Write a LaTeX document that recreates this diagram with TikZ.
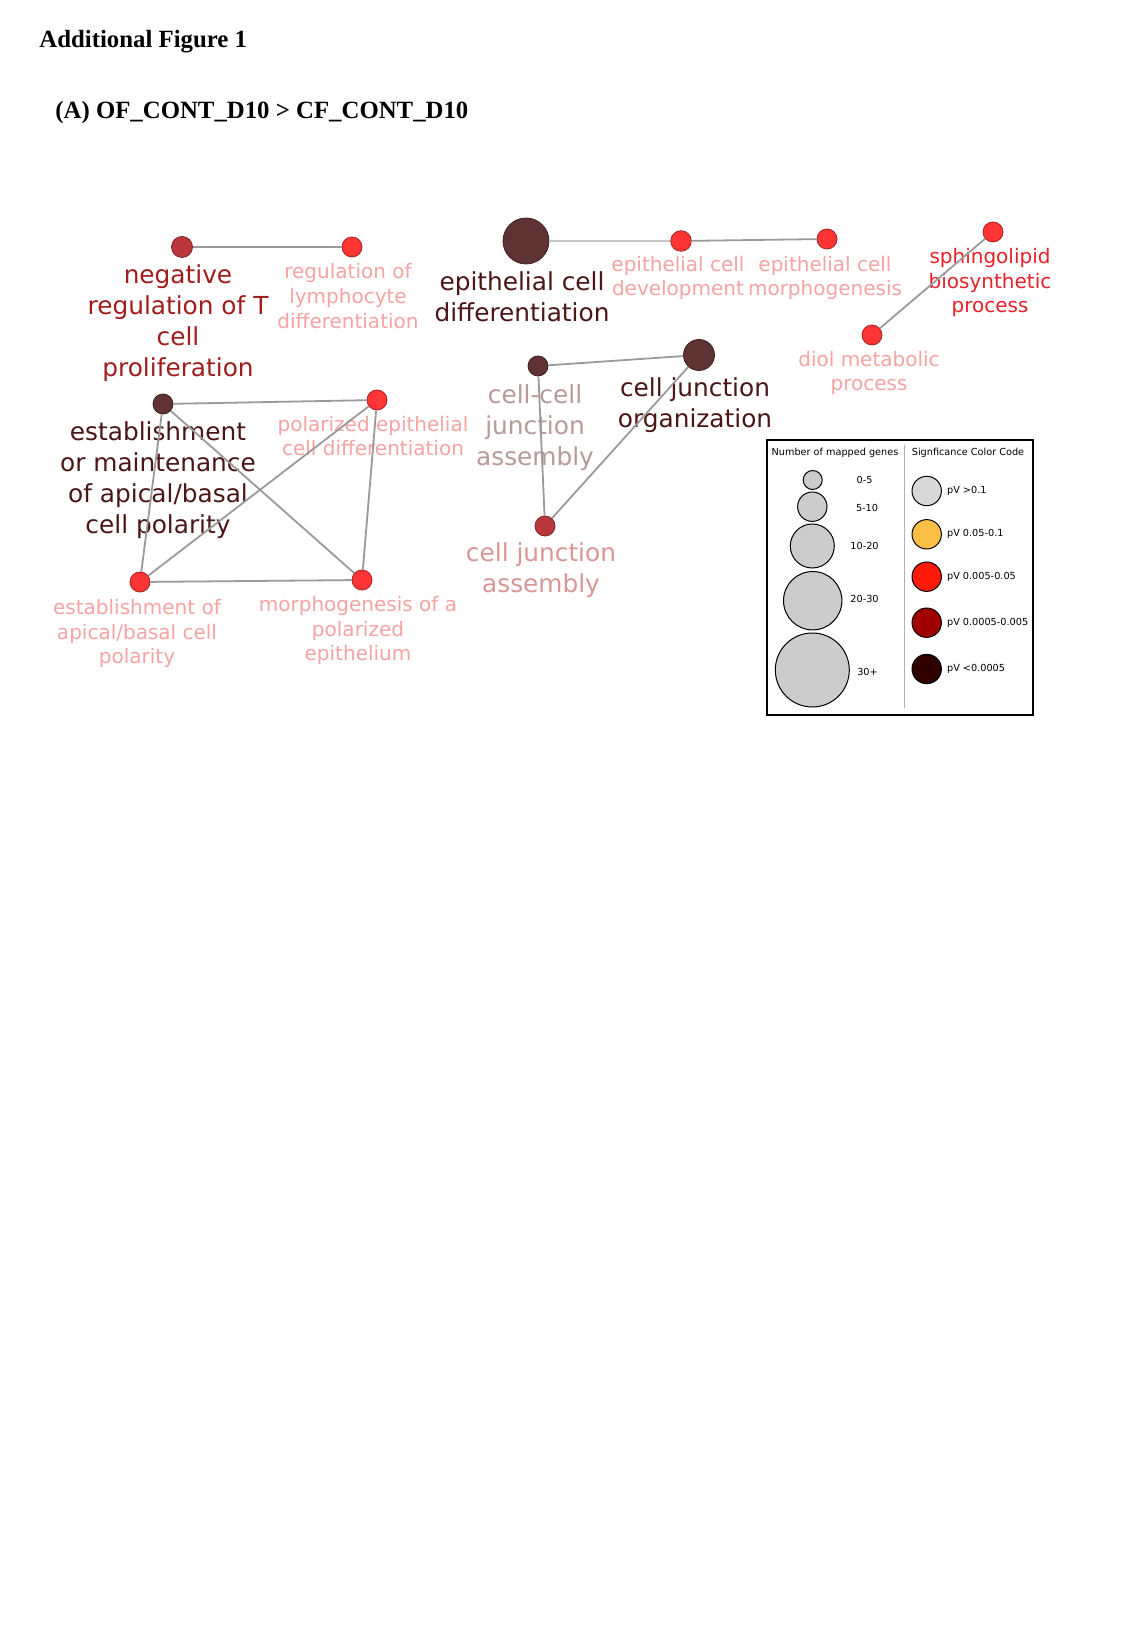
\documentclass[tikz,border=0pt]{standalone}
\usepackage{fontspec}
\newfontfamily\labfont{DejaVu Sans}
\newfontfamily\titlefont{Liberation Serif}
\definecolor{cbright}{HTML}{FF3535}
\definecolor{cmid}{HTML}{BA383B}
\definecolor{cdark}{HTML}{5F3333}
\definecolor{tdark}{HTML}{4A1616}
\definecolor{tmidred}{HTML}{A11D1D}
\definecolor{tpink}{HTML}{F5A3A3}
\definecolor{tred}{HTML}{E8202A}
\definecolor{tgrey}{HTML}{B89A9A}
\definecolor{tcja}{HTML}{D89696}
\definecolor{edgegray}{HTML}{9A9A9A}
\definecolor{edgelight}{HTML}{C4C4C4}
\definecolor{legfill}{HTML}{CCCCCC}
\definecolor{lgrey}{HTML}{D8D8D8}
\definecolor{lorange}{HTML}{FBBF45}
\definecolor{lred}{HTML}{FF1A0A}
\definecolor{ldred}{HTML}{A00000}
\definecolor{lblack}{HTML}{300000}
\begin{document}
\begin{tikzpicture}[x=0.5pt,y=-0.5pt,
  go/.style={circle, fill=#1, draw=#1!65!black, line width=0.4pt, inner sep=0pt},
  big/.style={font=\labfont\fontsize{12.4pt}{15.4pt}\selectfont, align=center, inner sep=0pt},
  small/.style={font=\labfont\fontsize{10pt}{12.4pt}\selectfont, align=center, inner sep=0pt},
  edge/.style={draw=edgegray, line width=0.9pt},
  ttl/.style={font=\titlefont\bfseries\fontsize{12.4pt}{15pt}\selectfont, anchor=base west, inner sep=0pt},
  legtxt/.style={font=\labfont\fontsize{4.85pt}{6pt}\selectfont, inner sep=0pt},
  legc/.style={circle, fill=legfill, draw=black, line width=0.5pt, inner sep=0pt},
  colc/.style={circle, fill=#1, draw=black, line width=0.5pt, inner sep=0pt, minimum size=14.7pt}
]
\fill[white] (0,0) rectangle (1125,1625);
\useasboundingbox (0,0) rectangle (1125,1625);

% titles
\node[ttl] (t1) at (39,48) {Additional Figure 1};
\node[ttl] (t2) at (55,119) {(A) OF\_CONT\_D10 > CF\_CONT\_D10};

% labels
\node[big, text=tmidred] (l1) at (178,323) {negative\\regulation of T\\cell\\proliferation};
\node[small, text=tpink] (l2) at (348,296) {regulation of\\lymphocyte\\differentiation};
\node[big, text=tdark] (l3) at (522,297) {epithelial cell\\differentiation};
\node[small, text=tpink] (l4) at (678,278) {epithelial cell\\development};
\node[small, text=tpink] (l5) at (825,278) {epithelial cell\\morphogenesis};
\node[small, text=tred] (l6) at (990,282.5) {sphingolipid\\biosynthetic\\process};
\node[small, text=tpink] (l7) at (869,373) {diol metabolic\\process};
\node[big, text=tdark] (l8) at (158,480) {establishment\\or maintenance\\of apical/basal\\cell polarity};
\node[small, text=tpink] (l9) at (373,436) {polarized epithelial\\cell differentiation};
\node[small, text=tpink] (l10) at (137,633.5) {establishment of\\apical/basal cell\\polarity};
\node[small, text=tpink] (l11) at (358,630.5) {morphogenesis of a\\polarized\\epithelium};
\node[big, text=tgrey] (l12) at (535,427.5) {cell-cell\\junction\\assembly};
\node[big, text=tdark] (l13) at (695,405) {cell junction\\organization};
\node[big, text=tcja] (l14) at (541,570.5) {cell junction\\assembly};

% term nodes
\node[go=cmid, minimum size=10.5pt] (n1) at (182,247) {};
\node[go=cbright, minimum size=10pt] (n2) at (352,247) {};
\node[go=cdark, minimum size=23pt] (n3) at (526,241) {};
\node[go=cbright, minimum size=10.3pt] (n4) at (681,241) {};
\node[go=cbright, minimum size=10pt] (n5) at (827,239) {};
\node[go=cbright, minimum size=10pt] (n6) at (993,232) {};
\node[go=cbright, minimum size=10pt] (n7) at (872,335) {};
\node[go=cdark, minimum size=10pt] (n8) at (163,404) {};
\node[go=cbright, minimum size=10pt] (n9) at (377,400) {};
\node[go=cbright, minimum size=10pt] (n10) at (140,582) {};
\node[go=cbright, minimum size=10pt] (n11) at (362,580) {};
\node[go=cdark, minimum size=10pt] (n12) at (538,366) {};
\node[go=cdark, minimum size=15.5pt] (n13) at (699,355) {};
\node[go=cmid, minimum size=10pt] (n14) at (545,526) {};

% edges
\draw[edge] (n1) -- (n2);
\draw[edge, draw=edgelight] (n3) -- (n4);
\draw[edge] (n4) -- (n5);
\draw[edge] (n6) -- (n7);
\draw[edge] (n8) -- (n9);
\draw[edge] (n8) -- (n10);
\draw[edge] (n8) -- (n11);
\draw[edge] (n9) -- (n10);
\draw[edge] (n9) -- (n11);
\draw[edge] (n10) -- (n11);
\draw[edge] (n12) -- (n13);
\draw[edge] (n12) -- (n14);
\draw[edge] (n13) -- (n14);

% legend
\draw[line width=1pt] (767,440) rectangle (1033,715);
\draw[gray!60, line width=0.4pt] (904,445) -- (904,708);
\node[legtxt] (h1) at (835,452.5) {Number of mapped genes};
\node[legtxt] (h2) at (968,452.5) {Signficance Color Code};

\node[legc, minimum size=9.5pt] (s1) at (812.7,480) {};
\node[legc, minimum size=14.7pt] (s2) at (812.3,506.7) {};
\node[legc, minimum size=22pt] (s3) at (812.3,546) {};
\node[legc, minimum size=29.2pt] (s4) at (812.7,600.7) {};
\node[legc, minimum size=37pt] (s5) at (812.3,670) {};
\node[legtxt] (sl1) at (864.5,480) {0-5};
\node[legtxt] (sl2) at (867,507.7) {5-10};
\node[legtxt] (sl3) at (864.5,546) {10-20};
\node[legtxt] (sl4) at (864.5,599.3) {20-30};
\node[legtxt] (sl5) at (867.5,672.3) {30+};

\node[colc=lgrey] (c1) at (926.7,491) {};
\node[colc=lorange] (c2) at (926.7,534.3) {};
\node[colc=lred] (c3) at (926.7,576.7) {};
\node[colc=ldred] (c4) at (926.7,622.7) {};
\node[colc=lblack] (c5) at (926.7,669) {};
\node[legtxt, anchor=west] (cl1) at (946.7,491) {pV >0.1};
\node[legtxt, anchor=west] (cl2) at (946.7,534.3) {pV 0.05-0.1};
\node[legtxt, anchor=west] (cl3) at (946.7,576.7) {pV 0.005-0.05};
\node[legtxt, anchor=west] (cl4) at (946.7,622.7) {pV 0.0005-0.005};
\node[legtxt, anchor=west] (cl5) at (946.7,669) {pV <0.0005};
\end{tikzpicture}
\end{document}
